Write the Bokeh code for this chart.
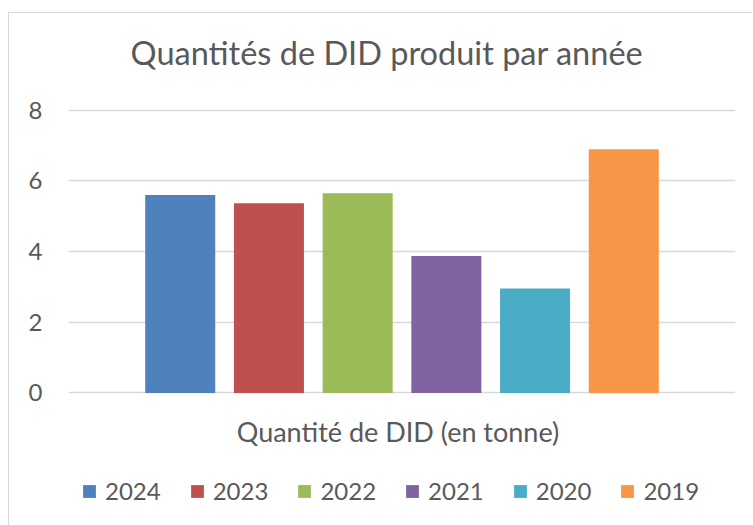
from bokeh.plotting import figure
from bokeh.models import FactorRange, Range1d, Legend, LegendItem, ColumnDataSource
from bokeh.core.properties import value
from bokeh.transform import dodge
from bokeh.embed import file_html
from bokeh.resources import INLINE

title = "Quantités de DID produit par année"
category = "Quantité de DID (en tonne)"
years = ["2024", "2023", "2022", "2021", "2020", "2019"]
values = [5.6, 5.37, 5.65, 3.88, 2.96, 6.9]
colors = ["#4F81BD", "#C0504D", "#9BBB59", "#8064A2", "#4BACC6", "#F79646"]
y_ticks = [0, 2, 4, 6, 8]

FONT = "Lato"
GREY = "#595959"

p = figure(
    title=None,
    x_range=FactorRange(category), y_range=Range1d(-3.75, 10.74),
    frame_width=667, frame_height=512,
    min_border_left=59, min_border_right=17, min_border_top=0, min_border_bottom=0,
    output_backend="svg", toolbar_location=None,
)
p.styles = {"border-left": "1px solid #d9d9d9", "border-top": "1px solid #d9d9d9",
            "margin-top": "12px", "margin-left": "8px"}

# title and category label drawn inside the frame
p.text(x=[category], y=[9.64], text=[title], text_align="center", text_baseline="middle",
       text_font=value(FONT), text_font_size="32.5px", text_color=GREY, x_offset=-15)
p.text(x=[category], y=[-1.08], text=[category], text_align="center", text_baseline="middle",
       text_font=value(FONT), text_font_size="27px", text_color=GREY, x_offset=-4)

n = len(years)
step = 0.133
items = []
for i, (yr, v, c) in enumerate(zip(years, values, colors)):
    src = ColumnDataSource(dict(cat=[category], val=[v]))
    r = p.vbar(x=dodge("cat", (i - (n - 1) / 2) * step, range=p.x_range), top="val",
               width=0.105, source=src, fill_color=c, line_color=None)
    items.append(LegendItem(label=yr, renderers=[r]))

legend = Legend(items=items, orientation="horizontal", location=(13, 20),
                border_line_color=None, background_fill_alpha=0,
                label_text_font=FONT, label_text_font_size="24px", label_text_color=GREY,
                glyph_width=16, glyph_height=16, label_standoff=8, spacing=28,
                padding=0, margin=0)
p.add_layout(legend, "center")

p.yaxis.ticker = y_ticks
p.yaxis.axis_line_color = None
p.yaxis.major_tick_line_color = None
p.yaxis.major_tick_out = 0
p.yaxis.major_tick_in = 0
p.yaxis.minor_tick_line_color = None
p.yaxis.major_label_standoff = 26
p.yaxis.major_label_text_font = FONT
p.yaxis.major_label_text_font_size = "24px"
p.yaxis.major_label_text_color = GREY

p.xaxis.visible = False
p.xgrid.grid_line_color = None
p.ygrid.ticker = y_ticks
p.ygrid.grid_line_color = "#d9d9d9"
p.ygrid.grid_line_width = 1.5
p.outline_line_color = None

open("out.html", "w").write(file_html(p, INLINE))
